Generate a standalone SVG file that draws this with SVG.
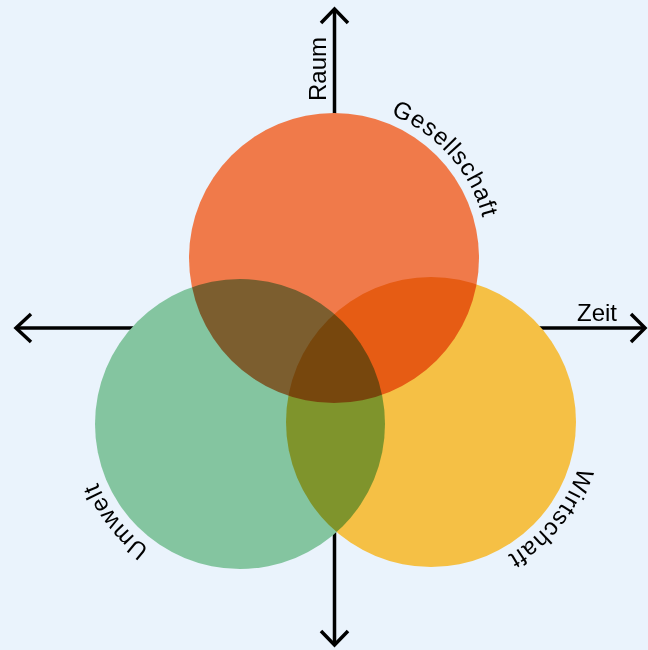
<svg xmlns="http://www.w3.org/2000/svg" xmlns:xlink="http://www.w3.org/1999/xlink" width="648" height="650" viewBox="0 0 648 650">
<style>
.axis{fill:none;stroke:#000;stroke-width:3.5;stroke-linecap:butt;stroke-linejoin:miter}
.lbl{font-family:"Liberation Sans",Arial,sans-serif;font-size:24px;fill:#000}
.arc{font-family:"Liberation Sans",Arial,sans-serif;font-size:24px;fill:#000;letter-spacing:1px}
.set{mix-blend-mode:multiply}
</style>
<defs>
<path id="pG" d="M303.0,107.1 A154,154 0 0 1 480.1,306.6"/>
<path id="pU" d="M261.4,576.5 A154,154 0 0 1 97.2,366.3"/>
<path id="pW" d="M574.5,366.1 A154,154 0 0 1 407.7,574.2"/>
</defs>
<rect width="648" height="650" fill="#EAF3FC"/>
<g id="connectors">
<line class="axis" x1="334.5" y1="9" x2="334.5" y2="645"/>
<line class="axis" x1="16" y1="328" x2="645" y2="328"/>
<polyline class="axis" points="321,23 334.5,9 348,23"/>
<polyline class="axis" points="321,631 334.5,645 348,631"/>
<polyline class="axis" points="31,314 16,328 31,342"/>
<polyline class="axis" points="631,314 645,328 631,342"/>
<text class="lbl" transform="translate(326,101) rotate(-90)">Raum</text>
<text class="lbl" x="577" y="321">Zeit</text>
</g>
<g style="isolation:isolate">
<g id="gesellschaft">
<circle class="set" cx="334" cy="258" r="145" fill="#F07A4A"/>
<text class="arc"><textPath xlink:href="#pG" href="#pG" startOffset="50%" text-anchor="middle">Gesellschaft</textPath></text>
</g>
<g id="umwelt">
<circle class="set" cx="240" cy="424" r="145" fill="#84C5A0"/>
<text class="arc"><textPath xlink:href="#pU" href="#pU" startOffset="50%" text-anchor="middle">Umwelt</textPath></text>
</g>
<g id="wirtschaft">
<circle class="set" cx="431" cy="422" r="145" fill="#F5C045"/>
<text class="arc"><textPath xlink:href="#pW" href="#pW" startOffset="50%" text-anchor="middle">Wirtschaft</textPath></text>
</g>
</g>
</svg>
